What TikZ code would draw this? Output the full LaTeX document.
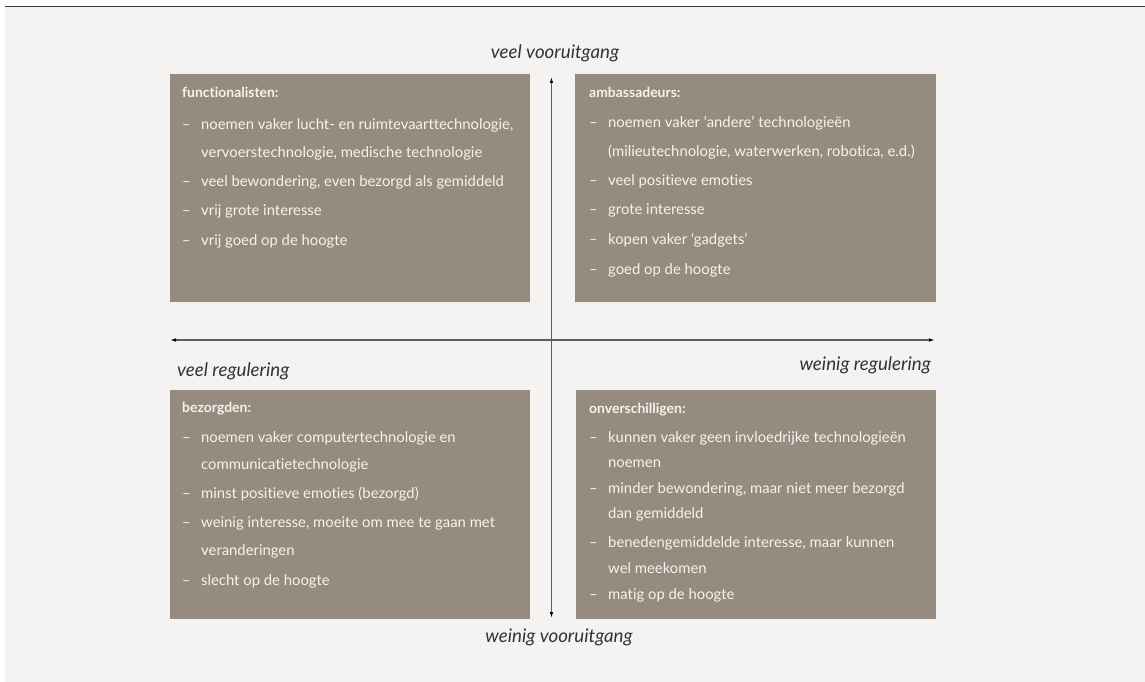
\documentclass[tikz,border=0pt]{standalone}
\usepackage{fontspec}
\setmainfont{Lato}[Ligatures=NoCommon]
\usetikzlibrary{arrows.meta}
\definecolor{panel}{HTML}{F4F3F1}
\definecolor{boxfill}{HTML}{958B7F}
\definecolor{boxtext}{HTML}{F6F3EF}
\definecolor{axiscol}{HTML}{5C5C5C}
\definecolor{labelcol}{HTML}{333333}
\definecolor{rulecol}{HTML}{3C3C3C}
\newcommand{\dsh}{\makebox[19bp][l]{–}}
\begin{document}
\begin{tikzpicture}[x=1bp,y=-1bp,
  quad/.style={fill=boxfill, draw=none, inner sep=0pt, anchor=north west, minimum height=228bp},
  ln/.style={anchor=base west, inner sep=0pt, text=boxtext, font=\fontsize{14.9}{17}\selectfont},
  ttl/.style={ln, font=\fontsize{14}{16}\selectfont\bfseries},
  axlabel/.style={inner sep=0pt, text=labelcol, font=\fontsize{18.8}{20}\selectfont\itshape},
  axisline/.style={draw=axiscol, line width=1.1bp, {Latex[length=6bp,width=3.5bp,color=black]}-{Latex[length=6bp,width=3.5bp,color=black]}},
  topline/.style={draw=rulecol, line width=1.5bp}
]
\useasboundingbox (0,0) rectangle (1145,682);
\fill[white] (0,0) rectangle (1145,682);
\fill[panel] (5,7) rectangle (1145,682);
\coordinate (ruleL) at (5,6.5);
\coordinate (ruleR) at (1145,6.5);
\draw[topline] (ruleL) -- (ruleR);

% boxes
\node[quad, minimum width=360bp] (tl) at (170,74) {};
\node[quad, minimum width=361bp] (tr) at (575,74) {};
\node[quad, minimum width=360bp, minimum height=229bp] (bl) at (170,390) {};
\node[quad, minimum width=360bp, minimum height=229bp] (br) at (576,390) {};

% axes
\coordinate (axL) at (170,340);
\coordinate (axR) at (935,340);
\coordinate (axT) at (551.5,77);
\coordinate (axB) at (551.5,618);
\draw[axisline] (axL) -- (axR);
\draw[axisline] (axB) -- (axT);

% axis labels
\node[axlabel, anchor=base] (lblT) at (555,59) {veel vooruitgang};
\node[axlabel, anchor=base] (lblB) at (559,642) {weinig vooruitgang};
\node[axlabel, anchor=base west] (lblL) at (177,376) {veel regulering};
\node[axlabel, anchor=base east] (lblR) at (931,370) {weinig regulering};

% top left
\node[ttl] (tl0) at (182,98) {functionalisten:};
\node[ln] (tl1) at (182,130) {\dsh noemen vaker lucht- en ruimtevaarttechnologie,};
\node[ln] (tl2) at (201,158) {vervoerstechnologie, medische technologie};
\node[ln] (tl3) at (182,187) {\dsh veel bewondering, even bezorgd als gemiddeld};
\node[ln] (tl4) at (182,216) {\dsh vrij grote interesse};
\node[ln] (tl5) at (182,245) {\dsh vrij goed op de hoogte};

% top right
\node[ttl] (tr0) at (589,98) {ambassadeurs:};
\node[ln] (tr1) at (589,128) {\dsh noemen vaker ‘andere’ technologieën};
\node[ln] (tr2) at (608,157) {(milieutechnologie, waterwerken, robotica, e.d.)};
\node[ln] (tr3) at (589,186) {\dsh veel positieve emoties};
\node[ln] (tr4) at (589,215) {\dsh grote interesse};
\node[ln] (tr5) at (589,244) {\dsh kopen vaker ‘gadgets’};
\node[ln] (tr6) at (589,274) {\dsh goed op de hoogte};

% bottom left
\node[ttl] (bl0) at (182,412) {bezorgden:};
\node[ln] (bl1) at (182,442) {\dsh noemen vaker computertechnologie en};
\node[ln] (bl2) at (201,469) {communicatietechnologie};
\node[ln] (bl3) at (182,498) {\dsh minst positieve emoties (bezorgd)};
\node[ln] (bl4) at (182,527) {\dsh weinig interesse, moeite om mee te gaan met};
\node[ln] (bl5) at (201,555) {veranderingen};
\node[ln] (bl6) at (182,585) {\dsh slecht op de hoogte};

% bottom right
\node[ttl] (br0) at (589,413) {onverschilligen:};
\node[ln] (br1) at (589,442) {\dsh kunnen vaker geen invloedrijke technologieën};
\node[ln] (br2) at (608,467) {noemen};
\node[ln] (br3) at (589,493) {\dsh minder bewondering, maar niet meer bezorgd};
\node[ln] (br4) at (608,518) {dan gemiddeld};
\node[ln] (br5) at (589,547) {\dsh benedengemiddelde interesse, maar kunnen};
\node[ln] (br6) at (608,573) {wel meekomen};
\node[ln] (br7) at (589,599) {\dsh matig op de hoogte};
\end{tikzpicture}
\end{document}
